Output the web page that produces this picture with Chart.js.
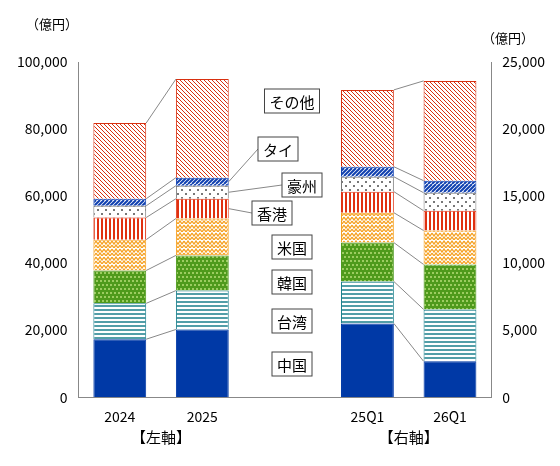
<!DOCTYPE html><html><head><meta charset="utf-8">
<script src="https://cdn.jsdelivr.net/npm/chart.js@4"></script>
<style>body{margin:0;background:#fff}#w{width:560px;height:466px}</style></head><body><div id="w"><canvas id="c"></canvas></div>
<script>
const categories=['2024','2025','','25Q1','26Q1'];
const seriesNames=['中国','台湾','韓国','米国','香港','豪州','タイ','その他'];
const leftValues=[[17300,20200],[10700,11600],[9800,10500],[9200,11000],[6600,5900],[3500,3900],[2100,2400],[22600,29400]];
const rightValues=[[5500,2680],[3130,3870],[2900,3350],[2230,2530],[1570,1480],[1110,1340],[750,900],[5730,7440]];
const leftTicks=[0,20000,40000,60000,80000,100000];
const rightTicks=[0,5000,10000,15000,20000,25000];
const F='"Noto Sans CJK JP", sans-serif';
function pat(kind){const s=8,c=document.createElement('canvas');c.width=s;c.height=s;const g=c.getContext('2d');
 g.fillStyle='#fff';g.fillRect(0,0,s,s);g.lineWidth=1.3;
 if(kind==0){g.fillStyle='#0039a6';g.fillRect(0,0,s,s);}
 if(kind==1){g.strokeStyle='#1a7f8c';g.beginPath();g.moveTo(0,2);g.lineTo(s,2);g.moveTo(0,6);g.lineTo(s,6);g.stroke();}
 if(kind==2){g.fillStyle='#4f9a1c';g.fillRect(0,0,s,s);g.fillStyle='#9ccc60';for(let i=0;i<s;i+=4)for(let j=0;j<s;j+=4)g.fillRect(i+((j/4)%2)*2,j,2,2);}
 if(kind==3){g.strokeStyle='#f5a020';g.beginPath();g.moveTo(0,1);g.lineTo(2,4);g.lineTo(4,1);g.lineTo(6,4);g.lineTo(8,1);g.moveTo(0,5);g.lineTo(2,8);g.lineTo(4,5);g.lineTo(6,8);g.lineTo(8,5);g.stroke();}
 if(kind==4){g.strokeStyle='#e03010';g.lineWidth=2;g.beginPath();g.moveTo(2,0);g.lineTo(2,s);g.moveTo(6,0);g.lineTo(6,s);g.stroke();}
 if(kind==5){g.fillStyle='#777';g.fillRect(1,1,2,2);g.fillRect(5,5,2,2);}
 if(kind==6){g.fillStyle='#fff';g.fillRect(0,0,s,s);g.strokeStyle='#1040b0';g.lineWidth=2;g.beginPath();for(let k=-s;k<=s;k+=4){g.moveTo(k,s);g.lineTo(k+s,0);}g.stroke();}
 if(kind==7){g.strokeStyle='#d83010';g.lineWidth=1;g.beginPath();for(let k=-s;k<=s;k+=4){g.moveTo(k,0);g.lineTo(k+s,s);}g.stroke();}
 return g.createPattern(c,'repeat');}
const borders=['#0039a6','#1a7f8c','#4f9a1c','#f5a020','#e03010','#777','#1040b0','#d83010'];
const datasets=[];
seriesNames.forEach((n,i)=>{const p=pat(i);
 datasets.push({label:n,data:[leftValues[i][0],leftValues[i][1],null,null,null],yAxisID:'y',stack:'L',backgroundColor:p,borderColor:borders[i],borderWidth:1});
 datasets.push({label:n+'R',data:[null,null,null,rightValues[i][0],rightValues[i][1]],yAxisID:'y2',stack:'R',backgroundColor:p,borderColor:borders[i],borderWidth:1});});
const deco={id:'deco',afterDatasetsDraw(ch){const c=ch.ctx,x=ch.scales.x,y=ch.scales.y,y2=ch.scales.y2;
 const hw=ch.getDatasetMeta(0).data[0].width/2;c.save();c.strokeStyle='#888';c.lineWidth=1;
 function conn(vals,sc,i0,i1){let a=0,b=0;for(let i=0;i<vals.length;i++){a+=vals[i][0];b+=vals[i][1];c.beginPath();c.moveTo(x.getPixelForValue(i0)+hw,sc.getPixelForValue(a));c.lineTo(x.getPixelForValue(i1)-hw,sc.getPixelForValue(b));c.stroke();}}
 conn(leftValues,y,0,1);conn(rightValues,y2,3,4);
 const labs=[['中国',292,364],['台湾',292,321],['韓国',292,282],['米国',292,247],['香港',272,213],['豪州',302,185],['タイ',278,149],['その他',292,101]];
 const anchors=[null,null,null,null,[1,4],[1,5],[1,6],null];
 c.font='15px '+F;c.textAlign='center';c.textBaseline='middle';
 labs.forEach((l,i)=>{const w=c.measureText(l[0]).width+10;
  if(anchors[i]){let s=0;for(let k=0;k<anchors[i][1]+1;k++)s+=leftValues[k][1];let s0=s-leftValues[anchors[i][1]][1]/2;
   c.beginPath();c.moveTo(l[1]-w/2,l[2]);c.lineTo(x.getPixelForValue(1)+hw,y.getPixelForValue(s0));c.stroke();}
  c.fillStyle='#fff';c.fillRect(l[1]-w/2,l[2]-12,w,24);c.strokeStyle='#444';c.strokeRect(l[1]-w/2,l[2]-12,w,24);c.strokeStyle='#888';c.fillStyle='#000';c.fillText(l[0],l[1],l[2]+1);});
 c.font='15px '+F;c.fillStyle='#000';
 c.fillText('【左軸】',(x.getPixelForValue(0)+x.getPixelForValue(1))/2,437);
 c.fillText('【右軸】',(x.getPixelForValue(3)+x.getPixelForValue(4))/2,437);
 c.font='13px '+F;c.fillText('（億円）',52,24);c.fillText('（億円）',508,38);
 c.restore();}};
new Chart(document.getElementById('c'),{type:'bar',data:{labels:categories,datasets},plugins:[deco],
 options:{responsive:true,maintainAspectRatio:false,animation:false,layout:{padding:{top:62,bottom:38,left:14,right:12}},
 datasets:{bar:{barPercentage:0.64,categoryPercentage:1,grouped:false}},
 plugins:{legend:{display:false},tooltip:{enabled:false}},
 scales:{x:{grid:{display:false},border:{color:'#888'},ticks:{color:'#000',font:{size:14,family:F}}},
  y:{position:'left',stacked:true,min:0,max:100000,afterBuildTicks:a=>{a.ticks=leftTicks.map(v=>({value:v}))},grid:{display:false},border:{color:'#888'},
   ticks:{color:'#000',font:{size:14,family:F},callback:v=>v.toLocaleString('en-US')}},
  y2:{position:'right',stacked:true,min:0,max:25000,afterBuildTicks:a=>{a.ticks=rightTicks.map(v=>({value:v}))},grid:{display:false},border:{color:'#888'},
   ticks:{color:'#000',font:{size:14,family:F},callback:v=>v.toLocaleString('en-US')}}}}});
</script></body></html>
